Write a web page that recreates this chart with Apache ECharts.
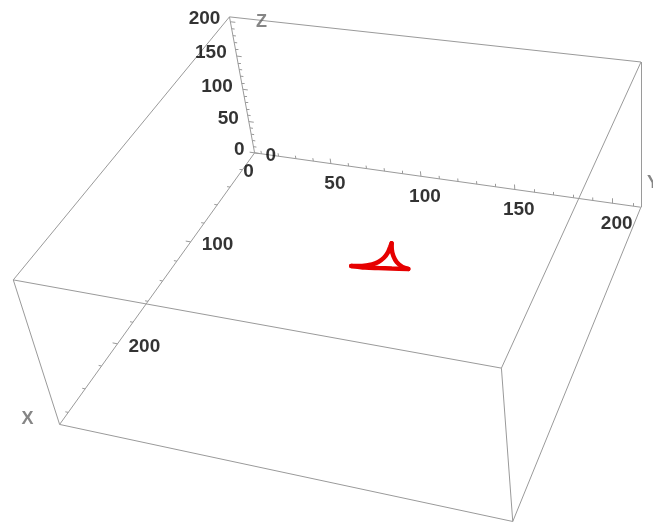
<!DOCTYPE html>
<html>
<head>
<meta charset="utf-8">
<script src="https://cdn.jsdelivr.net/npm/echarts@6/dist/echarts.min.js"></script>
<style>
  html, body { margin: 0; padding: 0; background: #fff; }
  #chart { width: 653px; height: 522px; }
</style>
</head>
<body>
<div id="chart"></div>
<script>
// plot ranges of the 3D box
const xRange = [0, 270];
const yRange = [6, 214];
const zRange = [0, 207];

// tick labels and minor tick steps
const xTickLabels = [0, 100, 200];
const yTickLabels = [0, 50, 100, 150, 200];
const zTickLabels = [0, 50, 100, 150, 200];
const xMinorStep = 20;
const yMinorStep = 10;
const zMinorStep = 10;

// red curve on the floor (z = 0), three cusps
const curveX = [97.9, 96.4, 93.5, 90.3, 85.6, 79.9, 74.5, 70.9, 76.5, 82.6, 87.7, 91.2, 92.2, 94.2, 95.8, 97.3];
const curveY = [91.7, 96.8, 101.1, 103.4, 104.9, 105.3, 104.9, 104.6, 106.3, 108.9, 112.1, 116.0, 119.3, 111.5, 105.1, 98.7];
const curveZ = [0, 0, 0, 0, 0, 0, 0, 0, 0, 0, 0, 0, 0, 0, 0, 0];
const curveCusps = [0, 7, 12];

// view: box ratios and a perspective camera in box units
const boxRatios = [1, 0.9914, 0.3953];
const camera = {
  eye: [2.92229, 1.70697, 2.30387],
  target: [0.53357, 0.53853, 0.13601],
  up: [-0.62202, -0.15307, 0.76789],
  focal: 1611.06,
  center: [370.98, 275.47]
};

const dot = (a, b) => a[0] * b[0] + a[1] * b[1] + a[2] * b[2];
const sub = (a, b) => [a[0] - b[0], a[1] - b[1], a[2] - b[2]];
const scl = (a, s) => [a[0] * s, a[1] * s, a[2] * s];
const unit = (a) => scl(a, 1 / Math.sqrt(dot(a, a)));
const cross = (a, b) => [a[1] * b[2] - a[2] * b[1], a[2] * b[0] - a[0] * b[2], a[0] * b[1] - a[1] * b[0]];

const fwd = unit(sub(camera.target, camera.eye));
const down = scl(unit(sub(camera.up, scl(fwd, dot(camera.up, fwd)))), -1);
const right = cross(down, fwd);
const ranges = [xRange, yRange, zRange];

// data point -> pixel position on the page
const project = (pt) => {
  const q = pt.map((v, i) => (v - ranges[i][0]) / (ranges[i][1] - ranges[i][0]) * boxRatios[i]);
  const d = sub(q, camera.eye);
  const depth = dot(fwd, d);
  return [
    camera.center[0] + camera.focal * dot(right, d) / depth,
    camera.center[1] + camera.focal * dot(down, d) / depth
  ];
};

// box edges
const corner = (i, j, k) => [xRange[i], yRange[j], zRange[k]];
const edgeData = [];
for (const j of [0, 1]) for (const k of [0, 1]) edgeData.push({ coords: [project(corner(0, j, k)), project(corner(1, j, k))] });
for (const i of [0, 1]) for (const k of [0, 1]) edgeData.push({ coords: [project(corner(i, 0, k)), project(corner(i, 1, k))] });
for (const i of [0, 1]) for (const j of [0, 1]) edgeData.push({ coords: [project(corner(i, j, 0)), project(corner(i, j, 1))] });

// ticks along the three edges through the origin corner
const origin = [xRange[0], yRange[0], zRange[0]];
const pointOnAxis = (axis, v) => { const p = origin.slice(); p[axis] = v; return p; };
const axisSpecs = [
  { axis: 0, step: xMinorStep, labels: xTickLabels, dir: [0, -1, 0] },
  { axis: 1, step: yMinorStep, labels: yTickLabels, dir: [0, 0, 1] },
  { axis: 2, step: zMinorStep, labels: zTickLabels, dir: [0, 1, 0] }
];
const tickData = [];
axisSpecs.forEach(spec => {
  const r = ranges[spec.axis];
  for (let v = Math.ceil(r[0] / spec.step) * spec.step; v <= r[1]; v += spec.step) {
    const p = pointOnAxis(spec.axis, v);
    const a = project(p);
    const b = project(p.map((c, i) => c + spec.dir[i]));
    const len = spec.labels.includes(v) ? 5 : 3;
    const d = Math.hypot(b[0] - a[0], b[1] - a[1]);
    tickData.push({ coords: [a, [a[0] + (b[0] - a[0]) / d * len, a[1] + (b[1] - a[1]) / d * len]] });
  }
});
const tickLabelData = (axis, labels) => labels.map(v => ({ name: String(v), value: project(pointOnAxis(axis, v)) }));

// curve split at the cusps so smoothing keeps them sharp
const arcs = curveCusps.map((s, i) => {
  const e = curveCusps[(i + 1) % curveCusps.length];
  const idx = [];
  for (let k = s; ; k = (k + 1) % curveX.length) { idx.push(k); if (k === e) break; }
  return idx.map(k => project([curveX[k], curveY[k], curveZ[k]]));
});

const font = "'Liberation Sans', Arial, sans-serif";
const tickLabelStyle = { show: true, formatter: '{b}', fontFamily: font, fontWeight: 'bold', fontSize: 19, color: '#000' };
const axisNameStyle = { show: true, formatter: '{b}', fontFamily: font, fontWeight: 'bold', fontSize: 18, color: '#666' };

const chart = echarts.init(document.getElementById('chart'), null, { renderer: 'canvas' });
chart.setOption({
  backgroundColor: '#fff',
  animation: false,
  grid: { left: 0, right: 0, top: 0, bottom: 0 },
  xAxis: { type: 'value', min: 0, max: 653, show: false },
  yAxis: { type: 'value', min: 0, max: 522, inverse: true, show: false },
  series: [
    { type: 'lines', coordinateSystem: 'cartesian2d', silent: true, data: edgeData,
      lineStyle: { color: '#9a9a9a', width: 1, opacity: 1 } },
    { type: 'lines', coordinateSystem: 'cartesian2d', silent: true, data: tickData,
      lineStyle: { color: '#9a9a9a', width: 1, opacity: 1 } },
    ...arcs.map(pts => ({
      type: 'line', data: pts, showSymbol: false, smooth: 0.3, silent: true,
      lineStyle: { color: '#e60000', width: 4.5, cap: 'round' }
    })),
    { type: 'scatter', symbolSize: 0, silent: true, data: tickLabelData(2, zTickLabels),
      label: { ...tickLabelStyle, position: 'left', distance: 10, offset: [0, -3] } },
    { type: 'scatter', symbolSize: 0, silent: true, data: tickLabelData(1, yTickLabels),
      label: { ...tickLabelStyle, position: 'inside', offset: [4, 20] } },
    { type: 'scatter', symbolSize: 0, silent: true, data: tickLabelData(0, xTickLabels),
      label: { ...tickLabelStyle, position: 'right', distance: 11, offset: [0, 3] } },
    { type: 'scatter', symbolSize: 0, silent: true,
      data: [{ name: 'Z', value: project([xRange[0], yRange[0], zRange[1]]) }],
      label: { ...axisNameStyle, position: 'inside', offset: [32, 5] } },
    { type: 'scatter', symbolSize: 0, silent: true,
      data: [{ name: 'Y', value: project([xRange[0], yRange[1], zRange[0]]) }],
      label: { ...axisNameStyle, position: 'inside', offset: [12, -24] } },
    { type: 'scatter', symbolSize: 0, silent: true,
      data: [{ name: 'X', value: project([xRange[1], yRange[0], zRange[0]]) }],
      label: { ...axisNameStyle, position: 'inside', offset: [-32, -5] } }
  ]
});
</script>
</body>
</html>
